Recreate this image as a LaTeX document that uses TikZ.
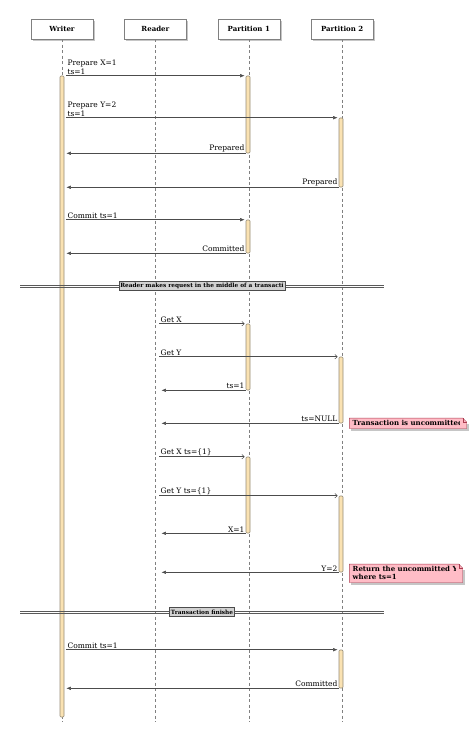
\documentclass[tikz,border=0pt]{standalone}
\usepackage{fontspec}
\setmainfont{DejaVu Serif}
\usetikzlibrary{positioning,arrows.meta,shadows,backgrounds,calc}

\definecolor{actfill}{RGB}{250,226,178}
\definecolor{actline}{RGB}{150,140,120}
\definecolor{notefill}{RGB}{255,188,198}
\definecolor{noteline}{RGB}{170,60,80}

\begin{document}
\begin{tikzpicture}[x=1pt, y=-1pt,
    node distance=31pt,
    actor/.style={draw=gray, fill=white, minimum width=62pt, minimum height=20pt,
                  font=\fontsize{7}{8}\selectfont\bfseries,
                  drop shadow={shadow xshift=2pt, shadow yshift=-2pt, fill=gray!45, opacity=1}},
    life/.style={draw=gray, dash pattern=on 3pt off 2.5pt},
    act/.style={draw=actline, line width=0.6pt, fill=actfill, minimum width=4pt,
                inner sep=0pt, rounded corners=1pt},
    call/.style={-{Latex[length=4.5pt,width=3.5pt]}, draw=black!70, line width=0.5pt,
                 shorten <=2pt, shorten >=1pt},
    ask/.style={-{Straight Barb[length=2.5pt,width=4.5pt]}, draw=black!70, line width=0.5pt,
                shorten >=1pt},
    reply/.style={-{Latex[length=4.5pt,width=3.5pt]}, draw=black!70, line width=0.5pt,
                  shorten >=2pt},
    msg/.style={font=\fontsize{7.5}{8.5}\selectfont, inner sep=1pt, align=left},
    sep/.style={draw=gray!70!black, line width=0.5pt},
    seplabel/.style={draw=gray!60!black, fill=gray!35, font=\fontsize{5.8}{7}\selectfont\bfseries,
                     inner sep=1.5pt, minimum height=9pt},
    note/.style={inner sep=0pt},
    notetext/.style={anchor=west, inner sep=3pt, align=left,
                     font=\fontsize{7}{8}\selectfont\bfseries},
    notebd/.style={draw=noteline, fill=notefill}
]
\useasboundingbox (0,0) rectangle (474,730);

% participants
\node[actor] (writer) at (62,29) {Writer};
\node[actor, right=of writer] (reader) {Reader};
\node[actor, right=of reader] (part1) {Partition 1};
\node[actor, right=of part1] (part2) {Partition 2};

% lifelines
\coordinate (bottom) at (0,722);
\foreach \p in {writer,reader,part1,part2}
  \draw[life] (\p.south) -- (\p.south |- bottom);
\coordinate (rx) at ([xshift=4pt]reader.south);

% activation bars
\node[act, minimum height=641pt] (wa) at (62,396.5) {};
\node[act, minimum height=77pt] (p1a) at (248,114.5) {};
\node[act, minimum height=69pt] (p2a) at (341,152.5) {};
\node[act, minimum height=33pt] (p1b) at (248,236.5) {};
\node[act, minimum height=66pt] (p1c) at (248,357) {};
\node[act, minimum height=66pt] (p2b) at (341,390) {};
\node[act, minimum height=76pt] (p1d) at (248,495) {};
\node[act, minimum height=76pt] (p2c) at (341,534) {};
\node[act, minimum height=38pt] (p2d) at (341,669) {};

% prepare phase
\draw[call] (wa.east |- p1a.north) -- (p1a.north west)
  node[msg, above right, pos=0, xshift=2pt] {Prepare X=1\\ts=1};
\draw[call] (wa.east |- p2a.north) -- (p2a.north west)
  node[msg, above right, pos=0, xshift=2pt] {Prepare Y=2\\ts=1};
\draw[reply] (p1a.south west) -- (wa.east |- p1a.south)
  node[msg, above left, pos=0] {Prepared};
\draw[reply] (p2a.south west) -- (wa.east |- p2a.south)
  node[msg, above left, pos=0] {Prepared};

% commit to partition 1
\draw[call] (wa.east |- p1b.north) -- (p1b.north west)
  node[msg, above right, pos=0, xshift=2pt] {Commit ts=1};
\draw[reply] (p1b.south west) -- (wa.east |- p1b.south)
  node[msg, above left, pos=0] {Committed};

% separator 1
\coordinate (sepl1) at (20,286);
\coordinate (sepr1) at (384,286);
\draw[sep] ([yshift=1pt]sepl1) -- ([yshift=1pt]sepr1);
\draw[sep] ([yshift=-1pt]sepl1) -- ([yshift=-1pt]sepr1);
\node[seplabel] (sep1) at ($(sepl1)!0.5!(sepr1)$) {Reader makes request in the middle of a transacti};

% reader requests
\draw[ask] (rx |- p1c.north) -- (p1c.north west)
  node[msg, above right, pos=0] {Get X};
\draw[ask] (rx |- p2b.north) -- (p2b.north west)
  node[msg, above right, pos=0] {Get Y};
\draw[reply] (p1c.south west) -- (rx |- p1c.south)
  node[msg, above left, pos=0] {ts=1};
\draw[reply] (p2b.south west) -- (rx |- p2b.south)
  node[msg, above left, pos=0] {ts=NULL};

\node[note, minimum width=110pt, minimum height=10pt, anchor=west,
      path picture={\node[notetext] at (path picture bounding box.west) {Transaction is uncommitted};}]
  (n1) at ([xshift=6pt]p2b.south east) {};

\draw[ask] (rx |- p1d.north) -- (p1d.north west)
  node[msg, above right, pos=0] {Get X ts=\{1\}};
\draw[ask] (rx |- p2c.north) -- (p2c.north west)
  node[msg, above right, pos=0] {Get Y ts=\{1\}};
\draw[reply] (p1d.south west) -- (rx |- p1d.south)
  node[msg, above left, pos=0] {X=1};
\draw[reply] (p2c.south west) -- (rx |- p2c.south)
  node[msg, above left, pos=0] {Y=2};

\node[note, minimum width=106pt, minimum height=18pt, anchor=west,
      path picture={\node[notetext] at (path picture bounding box.west) {Return the uncommitted Y\\where ts=1};}]
  (n2) at ([xshift=6pt,yshift=-1pt]p2c.south east) {};

% note outlines with folded corner (the fold sits past the text area)
\begin{scope}[on background layer]
\foreach \n in {n1,n2} {
  \fill[gray!45] ([shift={(2pt,-2pt)}]\n.south west) rectangle ([shift={(9pt,-6pt)}]\n.north east);
  \draw[notebd] (\n.south west) -- (\n.north west) -- ([xshift=3pt]\n.north east)
    -- ([xshift=7pt,yshift=-4pt]\n.north east) -- ([xshift=7pt]\n.south east) -- cycle;
  \draw[noteline] ([xshift=3pt]\n.north east) -- ([xshift=3pt,yshift=-4pt]\n.north east)
    -- ([xshift=7pt,yshift=-4pt]\n.north east);
}
\end{scope}

% separator 2
\coordinate (sepl2) at (20,612);
\coordinate (sepr2) at (384,612);
\draw[sep] ([yshift=1pt]sepl2) -- ([yshift=1pt]sepr2);
\draw[sep] ([yshift=-1pt]sepl2) -- ([yshift=-1pt]sepr2);
\node[seplabel] (sep2) at ($(sepl2)!0.5!(sepr2)$) {Transaction finishe};

% commit to partition 2
\draw[call] (wa.east |- p2d.north) -- (p2d.north west)
  node[msg, above right, pos=0, xshift=2pt] {Commit ts=1};
\draw[reply] (p2d.south west) -- (wa.east |- p2d.south)
  node[msg, above left, pos=0] {Committed};

\end{tikzpicture}
\end{document}
